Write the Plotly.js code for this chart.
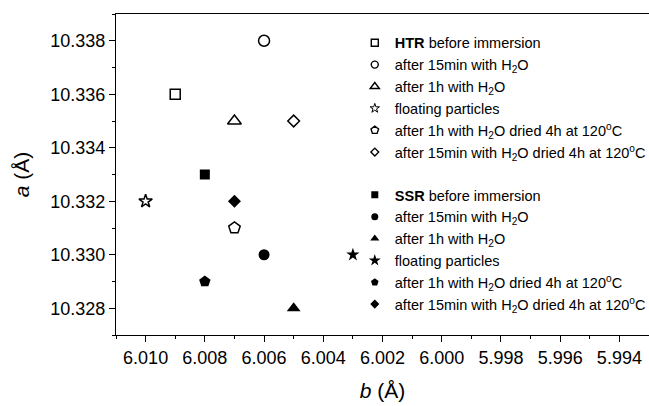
<!DOCTYPE html>
<html><head><meta charset="utf-8">
<script src="https://cdn.plot.ly/plotly-3.0.1.min.js"></script>
<style>html,body{margin:0;padding:0;background:#fff}</style>
</head><body>
<div id="chart" style="width:649px;height:406px"></div>
<script>
const labels = [
  "before immersion",
  "after 15min with H<sub>2</sub>O",
  "after 1h with H<sub>2</sub>O",
  "floating particles",
  "after 1h with H<sub>2</sub>O dried 4h at 120<sup>o</sup>C",
  "after 15min with H<sub>2</sub>O dried 4h at 120<sup>o</sup>C"
];
const htrB = [6.009, 6.006, 6.007, 6.010, 6.007, 6.005];
const htrA = [10.336, 10.338, 10.335, 10.332, 10.331, 10.335];
const ssrB = [6.008, 6.006, 6.005, 6.003, 6.008, 6.007];
const ssrA = [10.333, 10.330, 10.328, 10.330, 10.329, 10.332];
const openSymbols = ["square-open","circle-open","triangle-up-open","star-open","pentagon-open","diamond-open"];
const fillSymbols = ["square","circle","triangle-up","star","pentagon","diamond"];
const openDataSizes = [10, 11, 12, 10, 12, 9];
const fillDataSizes = [10, 11, 12, 10, 12, 10];
const openLegendSizes = [7, 7, 8, 7, 8, 6];
const fillLegendSizes = [7, 7, 8, 9, 8, 7];
const openLegendLines = [1.4, 1.4, 1.4, 1.0, 1.4, 1.4];

const traces = [];
function addGroup(group, bold, xs, ys, symbols, openStyle, dSizes, lSizes) {
  labels.forEach((lab, i) => {
    traces.push({
      type: "scatter", mode: "markers",
      x: [xs[i]], y: [ys[i]], showlegend: false, legendgroup: group,
      marker: {symbol: symbols[i], size: dSizes[i], color: "#000", line: {color: "#000", width: openStyle ? 1.5 : 0}}
    });
    traces.push({
      type: "scatter", mode: "markers",
      x: [null], y: [null], showlegend: true, legendgroup: group,
      name: (i === 0 ? "<b>" + bold + "</b> " : "") + lab,
      marker: {symbol: symbols[i], size: lSizes[i], color: "#000", line: {color: "#000", width: openStyle ? openLegendLines[i] : 0}}
    });
  });
}
addGroup("HTR", "HTR", htrB, htrA, openSymbols, true, openDataSizes, openLegendSizes);
addGroup("SSR", "SSR", ssrB, ssrA, fillSymbols, false, fillDataSizes, fillLegendSizes);

const font = {family: "Liberation Sans, Arial, sans-serif", color: "#000"};
const layout = {
  width: 649, height: 406,
  margin: {l: 116, r: 0, t: 14, b: 71, autoexpand: false},
  paper_bgcolor: "#fff", plot_bgcolor: "#fff",
  showlegend: true,
  font: Object.assign({size: 15}, font),
  legend: {
    x: 0.448, y: 0.96, xanchor: "left", yanchor: "top",
    traceorder: "grouped", tracegroupgap: 21,
    bgcolor: "rgba(0,0,0,0)", borderwidth: 0,
    font: Object.assign({size: 14.5}, font)
  },
  xaxis: {
    range: [6.011, 5.993],
    tickvals: [6.010, 6.008, 6.006, 6.004, 6.002, 6.000, 5.998, 5.996, 5.994],
    tickformat: ".3f",
    ticks: "outside", ticklen: 6, tickwidth: 1, tickcolor: "#000",
    minor: {dtick: 0.001, ticks: "outside", ticklen: 3, tickcolor: "#000", showgrid: false},
    showline: true, linecolor: "#000", linewidth: 1, mirror: true,
    showgrid: false, zeroline: false,
    tickfont: Object.assign({size: 18}, font),
    title: {text: "<i>b</i> (Å)", font: Object.assign({size: 21}, font), standoff: 16}
  },
  yaxis: {
    range: [10.327, 10.339],
    tickvals: [10.328, 10.330, 10.332, 10.334, 10.336, 10.338],
    tickformat: ".3f",
    ticks: "outside", ticklen: 6, tickwidth: 1, tickcolor: "#000",
    minor: {dtick: 0.001, ticks: "outside", ticklen: 3, tickcolor: "#000", showgrid: false},
    showline: true, linecolor: "#000", linewidth: 1,
    showgrid: false, zeroline: false,
    tickfont: Object.assign({size: 18}, font),
    title: {text: "<i>a</i> (Å)", font: Object.assign({size: 21}, font), standoff: 14}
  }
};
Plotly.newPlot("chart", traces, layout, {displayModeBar: false, staticPlot: true});
</script>
</body></html>
